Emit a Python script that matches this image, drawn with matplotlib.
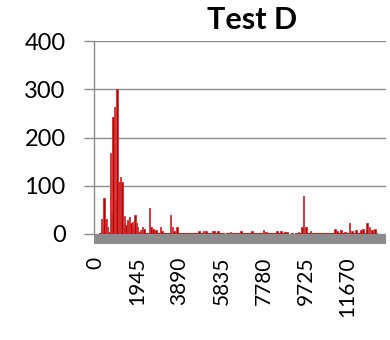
import matplotlib
matplotlib.use("Agg")
import matplotlib.pyplot as plt

# category index -> count
spike_cat = [240, 300, 360, 420, 480, 540, 600, 660, 720, 780, 840, 900, 960,
             1020, 1080, 1140, 1200, 1260, 1320, 1380, 1440, 1500, 1560, 1620,
             1680, 1740, 1800, 1860, 1920, 1980, 2040, 2100, 2160, 2220,
             2468, 2546, 2639, 2709, 2778, 2986, 3056, 3449, 3542, 3611, 3750,
             4769, 4986, 5093, 5417, 5463, 5649, 6218, 6714, 7223,
             7764, 7871, 8380, 8566, 8751, 8843, 9385, 9538, 9607, 9723, 9931,
             11066, 11158, 11343, 11529, 11737, 11853, 12038, 12270, 12363,
             12548, 12663, 12779, 12917]
spike_val = [32, 10, 74, 32, 32, 15, 5, 167, 43, 242, 263, 70, 301,
             108, 108, 118, 108, 18, 38, 18, 29, 25, 36, 22,
             25, 15, 40, 22, 15, 5, 8, 8, 15, 10,
             54, 15, 10, 6, 8, 15, 6, 40, 15, 7, 15,
             7, 7, 6, 7, 7, 6, 5, 6, 6,
             8, 5, 6, 6, 5, 5, 5, 15, 78, 14, 6,
             11, 6, 8, 5, 22, 6, 8, 8, 10,
             22, 14, 8, 10]

# low background level, with a few empty stretches
base_start = [180, 6030, 6310, 9060, 9240]
base_end = [5960, 6240, 8920, 9170, 13057]
base_val = 3

tick_cats = [0, 1945, 3890, 5835, 7780, 9725, 11670]
y_ticks = [0, 100, 200, 300, 400]

RED = "#c00000"
GRID = "#8c8c8c"
FLOOR = "#8c8c8c"

plt.rcParams["font.family"] = ["Lato", "DejaVu Sans"]

fig = plt.figure(figsize=(3.9, 3.4), dpi=100)
ax = fig.add_axes([0.241, 0.282, 0.749, 0.597])

ax.bar(base_start, base_val, width=[e - s for s, e in zip(base_start, base_end)],
       align="edge", color=RED, edgecolor=RED, linewidth=0.5)
ax.bar(spike_cat, spike_val, width=60, align="edge", color=RED,
       edgecolor="#d03030", linewidth=0.6)

# grey floor under the zero line
ax.axhspan(-21, 0, color=FLOOR, linewidth=0, zorder=2.5)

ax.set_xlim(-70, 13460)
ax.set_ylim(-21, 400)
ax.set_yticks(y_ticks)
ax.set_yticklabels([str(v) for v in y_ticks], fontsize=17)
ax.set_xticks(tick_cats)
ax.set_xticklabels([str(v) for v in tick_cats], fontsize=15, rotation=90,
                   rotation_mode="anchor", ha="right", va="center")
ax.tick_params(axis="x", length=0, pad=9)
ax.tick_params(axis="y", length=7.5, width=1, color=GRID, pad=13)

for v in y_ticks:
    ax.axhline(v, color=GRID, linewidth=1, zorder=0.5)

for s in ["top", "right", "bottom"]:
    ax.spines[s].set_visible(False)
ax.spines["left"].set_color(GRID)
ax.spines["left"].set_linewidth(1)
ax.spines["left"].set_bounds(0, 400)

fig.text(0.646, 0.94, "Test D", ha="center", va="center",
         fontsize=22, fontweight="bold")

fig.savefig("out.png", dpi=100)
